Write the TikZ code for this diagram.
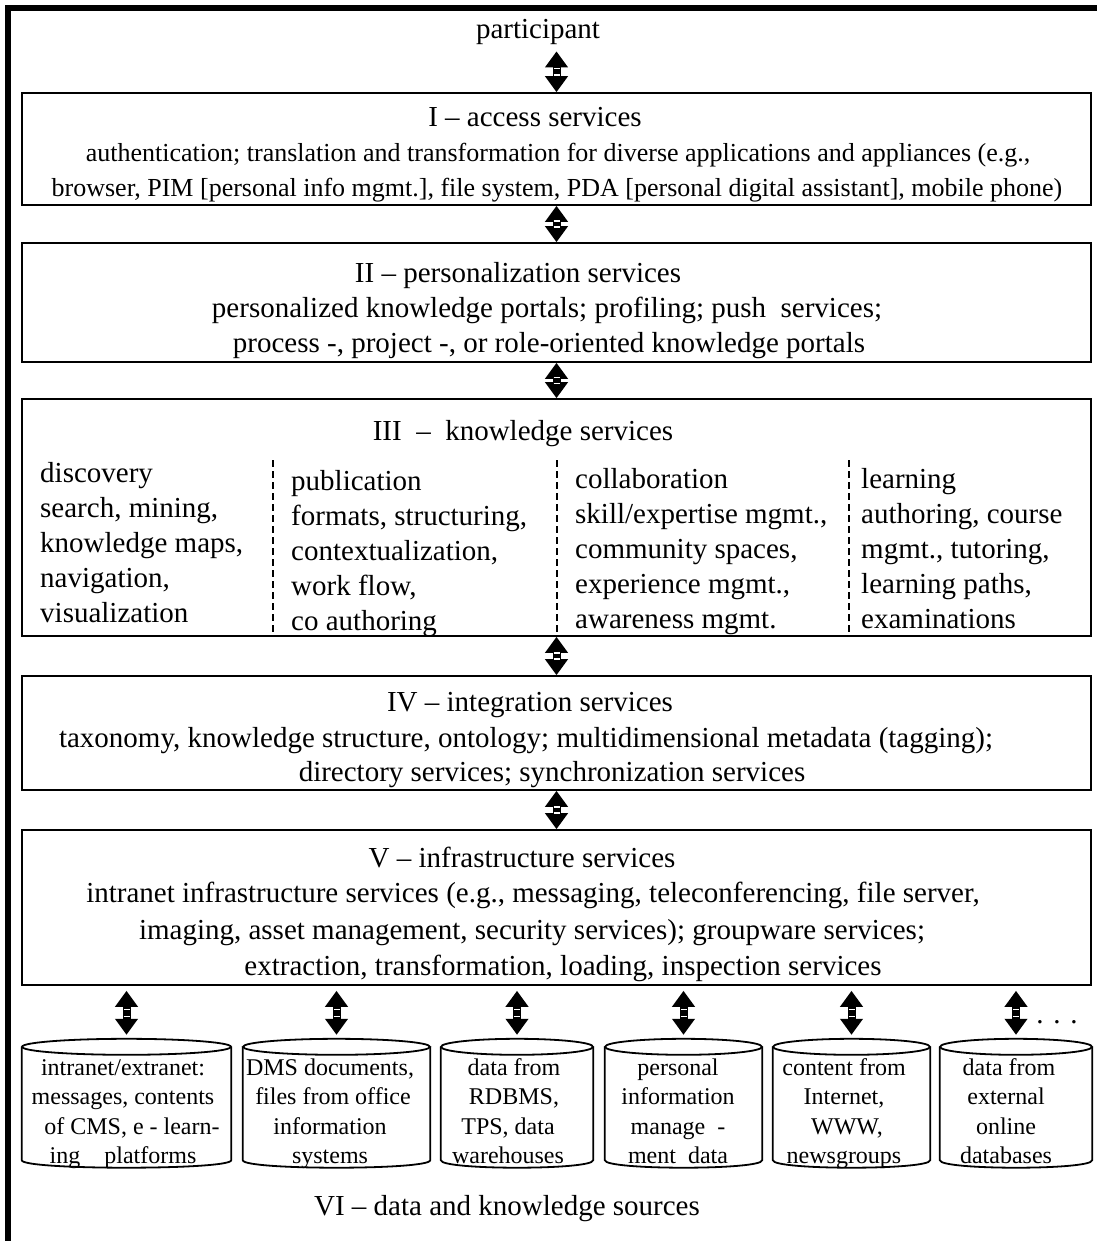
\documentclass[tikz,border=0pt]{standalone}
\usepackage{fontspec}
\setmainfont{Liberation Serif}
\usetikzlibrary{arrows.meta,calc}
% double-headed link with two light notches in the shaft
\newcommand\dlink[2]{%
  \draw[link] (#1) -- (#2);
  \draw[linkgap] ($(#1)!0.42!(#2)+(-3,0)$) -- +(6,0);
  \draw[linkgap] ($(#1)!0.58!(#2)+(-3,0)$) -- +(6,0);}
\begin{document}
\begin{tikzpicture}[x=1pt,y=-1pt,
  layer/.style={draw,line width=1.6pt,minimum width=1069pt,inner sep=0pt},
  big/.style={font=\fontsize{29}{35}\selectfont},
  mid/.style={font=\fontsize{26}{35}\selectfont},
  ln/.style={anchor=base,inner sep=0pt},
  lnw/.style={anchor=base west,inner sep=0pt,big},
  link/.style={line width=8pt,{Triangle[width=22pt,length=16pt]}-{Triangle[width=22pt,length=16pt]}},
  linkgap/.style={white,line width=1.5pt},
  cylbody/.style={inner sep=0pt,minimum height=113pt},
  cyltext/.style={anchor=base,inner sep=0pt,font=\fontsize{24}{29}\selectfont},
  cyledge/.style={line width=1.8pt},
  divider/.style={line width=2.4pt,dash pattern=on 7pt off 4pt}]

\useasboundingbox (0,0) rectangle (1097,1241);

% outer frame (top and left only)
\draw[line width=6.5pt] (8,1241) -- (8,8) -- (1097,8);

% service layers
\node[layer,minimum height=112pt] (s1) at (556.5,149) {};
\node[layer,minimum height=119pt] (s2) at (556.5,302.5) {};
\node[layer,minimum height=237pt] (s3) at (556.5,517.5) {};
\node[layer,minimum height=114pt] (s4) at (556.5,733) {};
\node[layer,minimum height=155pt] (s5) at (556.5,907.5) {};

\node[ln,big] (p) at (538,39) {participant};

% I
\node[ln,big] (s1t) at (535,127) {I -- access services};
\node[ln,mid] (s1a) at (558,162) {authentication; translation and transformation for diverse applications and appliances (e.g.,};
\node[ln,mid] (s1b) at (557,197) {browser, PIM [personal info mgmt.], file system, PDA [personal digital assistant], mobile phone)};

% II
\node[ln,big] (s2t) at (518,282) {II -- personalization services};
\node[ln,big] (s2a) at (547,317) {personalized knowledge portals; profiling; push\ \ services;};
\node[ln,big] (s2b) at (549,352) {process -, project -, or role-oriented knowledge portals};

% III
\node[ln,big] (s3t) at (523,440) {III \ -- \ knowledge services};
\foreach \s [count=\i from 0] in {discovery, {search, mining,}, {knowledge maps,}, {navigation,}, visualization}
  \node[lnw] (k1-\i) at (40,482+35*\i) {\s};
\foreach \s [count=\i from 0] in {publication, {formats, structuring,}, {contextualization,}, {work flow,}, {co authoring}}
  \node[lnw] (k2-\i) at (291,490+35*\i) {\s};
\foreach \s [count=\i from 0] in {collaboration, {skill/expertise mgmt.,}, {community spaces,}, {experience mgmt.,}, {awareness mgmt.}}
  \node[lnw] (k3-\i) at (575,488+35*\i) {\s};
\foreach \s [count=\i from 0] in {learning, {authoring, course}, {mgmt., tutoring,}, {learning paths,}, examinations}
  \node[lnw] (k4-\i) at (861,488+35*\i) {\s};
\draw[divider] (273,460) -- (273,636);
\draw[divider] (557,460) -- (557,636);
\draw[divider] (849,460) -- (849,636);

% IV
\node[ln,big] (s4t) at (530,711) {IV -- integration services};
\node[ln,big] (s4a) at (526,747) {taxonomy, knowledge structure, ontology; multidimensional metadata (tagging);};
\node[ln,big] (s4b) at (552,781) {directory services; synchronization services};

% V
\node[ln,big] (s5t) at (522,867) {V -- infrastructure services};
\node[ln,big] (s5a) at (533,902) {intranet infrastructure services (e.g., messaging, teleconferencing, file server,};
\node[ln,big] (s5b) at (532,939) {imaging, asset management, security services); groupware services;};
\node[ln,big] (s5c) at (563,975) {extraction, transformation, loading, inspection services};

% links between layers
\coordinate (pa) at ($(s1.north |- p.south)+(0,6)$);
\dlink{pa}{s1.north}
\dlink{s1.south}{s2.north}
\dlink{s2.south}{s3.north}
\dlink{s3.south}{s4.north}
\dlink{s4.south}{s5.north}

% data sources
\foreach \n/\cx/\w in {c1/126.5/209, c2/336.5/187, c3/517/152, c4/683.5/157, c5/851.5/157, c6/1016/152}{
  \node[cylbody,minimum width=\w pt] (\n) at (\cx,1103.5) {};
  \draw[cyledge] (\n.north west) -- (\n.south west) .. controls +(0,10) and +(0,10) .. (\n.south east) -- (\n.north east);
  \draw[cyledge] (\n.north) ellipse [x radius={\w*0.5pt}, y radius=8pt];
  \coordinate (\n-a) at ($(\n.north |- s5.south)+(0,5)$);
  \coordinate (\n-b) at ($(\n.north)+(0,-12)$);
  \dlink{\n-a}{\n-b}
}

\foreach \s [count=\i from 0] in {{intranet/extranet:}, {messages, contents}, {\ \ \ of CMS, e - learn-}, {ing\quad platforms}}
  \node[cyltext] (c1t\i) at (123,1075+29.5*\i) {\s};
\foreach \s [count=\i from 0] in {{DMS documents,}, {\ files from office}, {information}, {systems}}
  \node[cyltext] (c2t\i) at (330,1075+29.5*\i) {\s};
\foreach \s [count=\i from 0] in {{\ \ data from}, {\ \ RDBMS,}, {TPS, data}, {warehouses}}
  \node[cyltext] (c3t\i) at (508,1075+29.5*\i) {\s};
\foreach \s [count=\i from 0] in {{personal}, {information}, {manage\ \ -}, {ment\ \ data}}
  \node[cyltext] (c4t\i) at (678,1075+29.5*\i) {\s};
\foreach \s [count=\i from 0] in {{content from}, {Internet,}, {\ WWW,}, {newsgroups}}
  \node[cyltext] (c5t\i) at (844,1075+29.5*\i) {\s};
\foreach \s [count=\i from 0] in {{\ data from}, {external}, {online}, {databases}}
  \node[cyltext] (c6t\i) at (1006,1075+29.5*\i) {\s};

\node[ln,big] (more) at (1057,1023) {.\,\,.\,\,.};

\node[ln,big] (src) at (507,1215) {VI -- data and knowledge sources};
\end{tikzpicture}
\end{document}
